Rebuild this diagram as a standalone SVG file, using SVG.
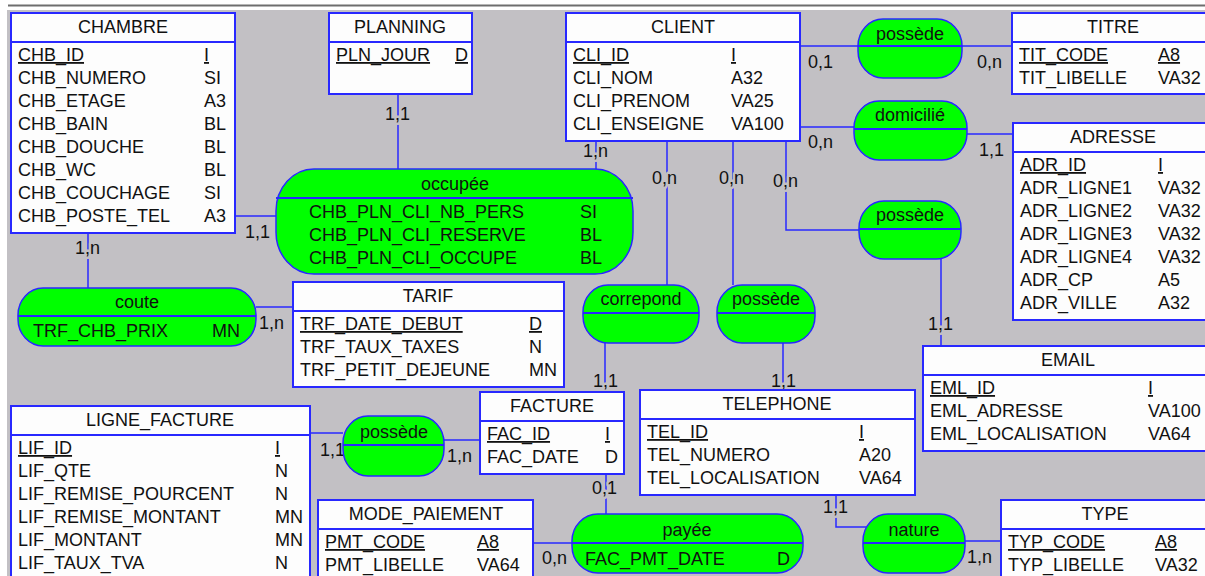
<svg xmlns="http://www.w3.org/2000/svg" width="1205" height="576" viewBox="0 0 1205 576">
<style>
text{font-family:"Liberation Sans",Arial,sans-serif;font-size:18px;fill:#111}
.ent{fill:#fdfdfd;stroke:#2828ff;stroke-width:2}
.sep{stroke:#2828ff;stroke-width:2}
.asso{fill:#00ff00;stroke:#2828ff;stroke-width:1.5}
.asep{stroke:#2828ff;stroke-width:2}
.ln{fill:none;stroke:#2828ff;stroke-width:1.5}
.c{text-anchor:middle}
.pk{text-decoration:underline}
.card{paint-order:stroke;stroke:#c2c0c4;stroke-width:5px;stroke-linejoin:round}
</style>
<rect x="0" y="0" width="1205" height="576" fill="#ffffff"/>
<rect x="8" y="4.5" width="1197" height="2" fill="#6e6e6e"/>
<rect x="7" y="10" width="1198" height="566" fill="#c2c0c4"/>

<g id="connectors">
<path class="ln" d="M800,46 H858 M962,46 H1012"/>
<path class="ln" d="M800,127 H854 M967,134 H1013"/>
<path class="ln" d="M786,141 V230 H859 M941,259 V346"/>
<path class="ln" d="M398,94 V169"/>
<path class="ln" d="M596,141 V169"/>
<path class="ln" d="M235,216 H276"/>
<path class="ln" d="M88,233 V288"/>
<path class="ln" d="M256,307 H293"/>
<path class="ln" d="M667,141 V285 M605,343 V392"/>
<path class="ln" d="M733,141 V285 M783,343 V390"/>
<path class="ln" d="M310,433 H343 M444,440 H480"/>
<path class="ln" d="M606,474 V514 M533,543 H572"/>
<path class="ln" d="M836,495 V527 H866 M965,541 H1001"/>
<text class="card" x="808" y="68">0,1</text>
<text class="card" x="977" y="68">0,n</text>
<text class="card" x="808" y="148">0,n</text>
<text class="card" x="979" y="156">1,1</text>
<text class="card" x="773" y="187">0,n</text>
<text class="card" x="928" y="330">1,1</text>
<text class="card" x="385" y="120">1,1</text>
<text class="card" x="583" y="157">1,n</text>
<text class="card" x="245" y="238">1,1</text>
<text class="card" x="75" y="254">1,n</text>
<text class="card" x="259" y="329">1,n</text>
<text class="card" x="652" y="184">0,n</text>
<text class="card" x="593" y="387">1,1</text>
<text class="card" x="719" y="184">0,n</text>
<text class="card" x="771" y="387">1,1</text>
<text class="card" x="320" y="456">1,1</text>
<text class="card" x="447" y="462">1,n</text>
<text class="card" x="592" y="494">0,1</text>
<text class="card" x="542" y="564">0,n</text>
<text class="card" x="823" y="513">1,1</text>
<text class="card" x="967" y="563">1,n</text>
</g>

<g id="CHAMBRE">
<rect class="ent" x="11" y="13" width="224" height="220"/>
<line class="sep" x1="11" y1="42" x2="235" y2="42"/>
<text class="c" x="123" y="33">CHAMBRE</text>
<text x="18" y="61" class="pk">CHB_ID</text><text x="204" y="61" class="pk">I</text>
<text x="18" y="84">CHB_NUMERO</text><text x="204" y="84">SI</text>
<text x="18" y="107">CHB_ETAGE</text><text x="204" y="107">A3</text>
<text x="18" y="130">CHB_BAIN</text><text x="204" y="130">BL</text>
<text x="18" y="153">CHB_DOUCHE</text><text x="204" y="153">BL</text>
<text x="18" y="176">CHB_WC</text><text x="204" y="176">BL</text>
<text x="18" y="199">CHB_COUCHAGE</text><text x="204" y="199">SI</text>
<text x="18" y="222">CHB_POSTE_TEL</text><text x="204" y="222">A3</text>
</g>

<g id="PLANNING">
<rect class="ent" x="329" y="13" width="143" height="81"/>
<line class="sep" x1="329" y1="42" x2="472" y2="42"/>
<text class="c" x="400" y="33">PLANNING</text>
<text x="336" y="61" class="pk">PLN_JOUR</text><text x="455" y="61" class="pk">D</text>
</g>

<g id="CLIENT">
<rect class="ent" x="566" y="13" width="234" height="128"/>
<line class="sep" x1="566" y1="42" x2="800" y2="42"/>
<text class="c" x="683" y="33">CLIENT</text>
<text x="573" y="61" class="pk">CLI_ID</text><text x="731" y="61" class="pk">I</text>
<text x="573" y="84">CLI_NOM</text><text x="731" y="84">A32</text>
<text x="573" y="107">CLI_PRENOM</text><text x="731" y="107">VA25</text>
<text x="573" y="130">CLI_ENSEIGNE</text><text x="731" y="130">VA100</text>
</g>

<g id="TITRE">
<rect class="ent" x="1012" y="13" width="202" height="81"/>
<line class="sep" x1="1012" y1="42" x2="1214" y2="42"/>
<text class="c" x="1113" y="33">TITRE</text>
<text x="1019" y="61" class="pk">TIT_CODE</text><text x="1158" y="61" class="pk">A8</text>
<text x="1019" y="84">TIT_LIBELLE</text><text x="1158" y="84">VA32</text>
</g>

<g id="ADRESSE">
<rect class="ent" x="1013" y="123" width="200" height="197"/>
<line class="sep" x1="1013" y1="152" x2="1213" y2="152"/>
<text class="c" x="1113" y="143">ADRESSE</text>
<text x="1020" y="171" class="pk">ADR_ID</text><text x="1158" y="171" class="pk">I</text>
<text x="1020" y="194">ADR_LIGNE1</text><text x="1158" y="194">VA32</text>
<text x="1020" y="217">ADR_LIGNE2</text><text x="1158" y="217">VA32</text>
<text x="1020" y="240">ADR_LIGNE3</text><text x="1158" y="240">VA32</text>
<text x="1020" y="263">ADR_LIGNE4</text><text x="1158" y="263">VA32</text>
<text x="1020" y="286">ADR_CP</text><text x="1158" y="286">A5</text>
<text x="1020" y="309">ADR_VILLE</text><text x="1158" y="309">A32</text>
</g>

<g id="EMAIL">
<rect class="ent" x="923" y="346" width="290" height="105"/>
<line class="sep" x1="923" y1="375" x2="1213" y2="375"/>
<text class="c" x="1068" y="366">EMAIL</text>
<text x="930" y="394" class="pk">EML_ID</text><text x="1148" y="394" class="pk">I</text>
<text x="930" y="417">EML_ADRESSE</text><text x="1148" y="417">VA100</text>
<text x="930" y="440">EML_LOCALISATION</text><text x="1148" y="440">VA64</text>
</g>

<g id="TARIF">
<rect class="ent" x="293" y="282" width="271" height="105"/>
<line class="sep" x1="293" y1="311" x2="564" y2="311"/>
<text class="c" x="428" y="302">TARIF</text>
<text x="300" y="330" class="pk">TRF_DATE_DEBUT</text><text x="529" y="330" class="pk">D</text>
<text x="300" y="353">TRF_TAUX_TAXES</text><text x="529" y="353">N</text>
<text x="300" y="376">TRF_PETIT_DEJEUNE</text><text x="529" y="376">MN</text>
</g>

<g id="LIGNE_FACTURE">
<rect class="ent" x="11" y="406" width="299" height="174"/>
<line class="sep" x1="11" y1="435" x2="310" y2="435"/>
<text class="c" x="160" y="426">LIGNE_FACTURE</text>
<text x="18" y="454" class="pk">LIF_ID</text><text x="275" y="454" class="pk">I</text>
<text x="18" y="477">LIF_QTE</text><text x="275" y="477">N</text>
<text x="18" y="500">LIF_REMISE_POURCENT</text><text x="275" y="500">N</text>
<text x="18" y="523">LIF_REMISE_MONTANT</text><text x="275" y="523">MN</text>
<text x="18" y="546">LIF_MONTANT</text><text x="275" y="546">MN</text>
<text x="18" y="569">LIF_TAUX_TVA</text><text x="275" y="569">N</text>
</g>

<g id="FACTURE">
<rect class="ent" x="480" y="392" width="144" height="82"/>
<line class="sep" x1="480" y1="421" x2="624" y2="421"/>
<text class="c" x="552" y="412">FACTURE</text>
<text x="487" y="440" class="pk">FAC_ID</text><text x="605" y="440" class="pk">I</text>
<text x="487" y="463">FAC_DATE</text><text x="605" y="463">D</text>
</g>

<g id="TELEPHONE">
<rect class="ent" x="640" y="390" width="275" height="105"/>
<line class="sep" x1="640" y1="419" x2="915" y2="419"/>
<text class="c" x="777" y="410">TELEPHONE</text>
<text x="647" y="438" class="pk">TEL_ID</text><text x="859" y="438" class="pk">I</text>
<text x="647" y="461">TEL_NUMERO</text><text x="859" y="461">A20</text>
<text x="647" y="484">TEL_LOCALISATION</text><text x="859" y="484">VA64</text>
</g>

<g id="MODE_PAIEMENT">
<rect class="ent" x="318" y="500" width="215" height="82"/>
<line class="sep" x1="318" y1="529" x2="533" y2="529"/>
<text class="c" x="426" y="520">MODE_PAIEMENT</text>
<text x="325" y="548" class="pk">PMT_CODE</text><text x="477" y="548" class="pk">A8</text>
<text x="325" y="571">PMT_LIBELLE</text><text x="477" y="571">VA64</text>
</g>

<g id="TYPE">
<rect class="ent" x="1001" y="500" width="208" height="82"/>
<line class="sep" x1="1001" y1="529" x2="1209" y2="529"/>
<text class="c" x="1105" y="520">TYPE</text>
<text x="1008" y="548" class="pk">TYP_CODE</text><text x="1155" y="548" class="pk">A8</text>
<text x="1008" y="571">TYP_LIBELLE</text><text x="1155" y="571">VA32</text>
</g>

<g id="possede_titre">
<rect class="asso" x="858" y="19" width="104" height="59" rx="25" ry="27"/>
<line class="asep" x1="858" y1="46" x2="962" y2="46"/>
<text class="c" x="910" y="40">possède</text>
</g>

<g id="domicilie">
<rect class="asso" x="854" y="101" width="113" height="59" rx="25" ry="27"/>
<line class="asep" x1="854" y1="129" x2="967" y2="129"/>
<text class="c" x="910" y="121">domicilié</text>
</g>

<g id="possede_email">
<rect class="asso" x="859" y="201" width="102" height="58" rx="25" ry="27"/>
<line class="asep" x1="859" y1="229" x2="961" y2="229"/>
<text class="c" x="910" y="221">possède</text>
</g>

<g id="occupee">
<rect class="asso" x="276" y="169" width="357" height="105" rx="38" ry="42"/>
<line class="asep" x1="276" y1="198" x2="633" y2="198"/>
<text class="c" x="455" y="190">occupée</text>
<text x="309" y="218">CHB_PLN_CLI_NB_PERS</text><text x="580" y="218">SI</text>
<text x="309" y="241">CHB_PLN_CLI_RESERVE</text><text x="580" y="241">BL</text>
<text x="309" y="264">CHB_PLN_CLI_OCCUPE</text><text x="580" y="264">BL</text>
</g>

<g id="coute">
<rect class="asso" x="18" y="288" width="238" height="58" rx="25" ry="27"/>
<line class="asep" x1="18" y1="316" x2="256" y2="316"/>
<text class="c" x="137" y="308">coute</text>
<text x="33" y="337">TRF_CHB_PRIX</text><text x="212" y="337">MN</text>
</g>

<g id="correpond">
<rect class="asso" x="583" y="285" width="116" height="58" rx="25" ry="27"/>
<line class="asep" x1="583" y1="313" x2="699" y2="313"/>
<text class="c" x="641" y="305">correpond</text>
</g>

<g id="possede_tel">
<rect class="asso" x="717" y="285" width="98" height="58" rx="25" ry="27"/>
<line class="asep" x1="717" y1="313" x2="815" y2="313"/>
<text class="c" x="766" y="305">possède</text>
</g>

<g id="possede_ligne">
<rect class="asso" x="343" y="416" width="101" height="60" rx="25" ry="27"/>
<line class="asep" x1="343" y1="445" x2="444" y2="445"/>
<text class="c" x="394" y="438">possède</text>
</g>

<g id="payee">
<rect class="asso" x="572" y="514" width="231" height="59" rx="26" ry="27"/>
<line class="asep" x1="572" y1="543" x2="803" y2="543"/>
<text class="c" x="687" y="536">payée</text>
<text x="585" y="565">FAC_PMT_DATE</text><text x="777" y="565">D</text>
</g>

<g id="nature">
<rect class="asso" x="863" y="514" width="102" height="59" rx="25" ry="27"/>
<line class="asep" x1="863" y1="543" x2="965" y2="543"/>
<text class="c" x="914" y="536">nature</text>
</g>
</svg>
